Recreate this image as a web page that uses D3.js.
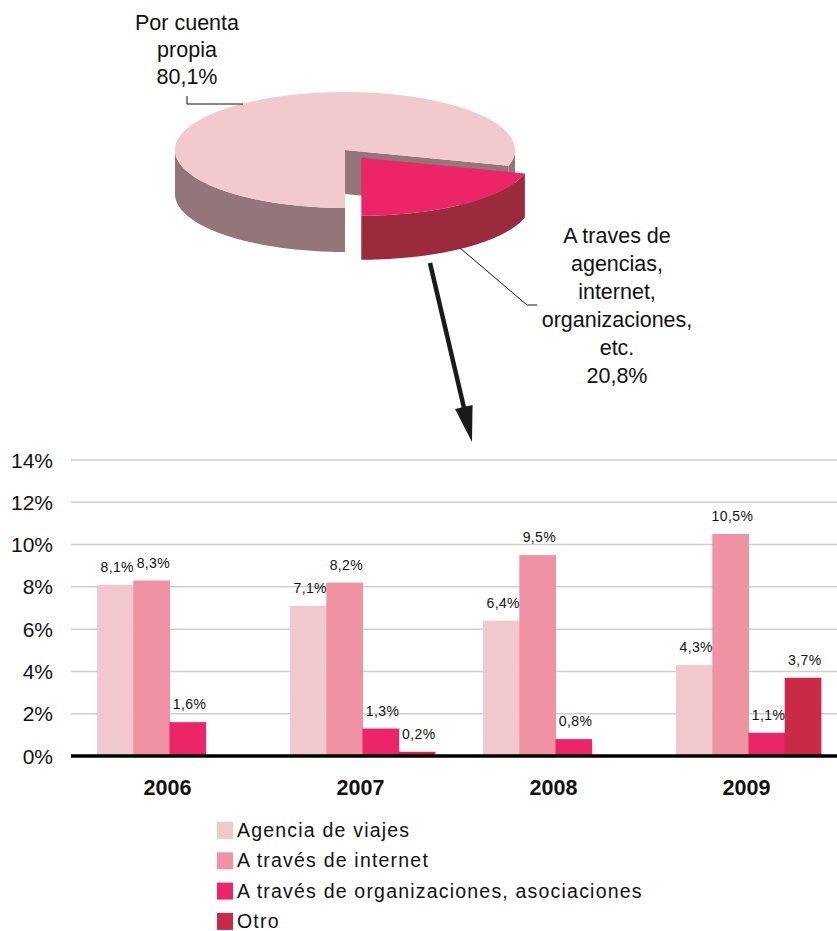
<!DOCTYPE html>
<html><head><meta charset="utf-8">
<script src="https://cdn.jsdelivr.net/npm/d3@7"></script>
<style>body{margin:0;background:#fff}svg{display:block;font-family:"Liberation Sans",Arial,sans-serif}</style>
</head><body><svg id="c" width="837" height="931"></svg>
<script>
// ---- data ----
const pieLabels = [["Por cuenta","propia","80,1%"],["A traves de","agencias,","internet,","organizaciones,","etc.","20,8%"]];
const pieValues = [80.1, 20.8];
const years = ["2006","2007","2008","2009"];
const seriesNames = ["Agencia de viajes","A través de internet","A través de organizaciones, asociaciones","Otro"];
const agencia = [8.1, 7.1, 6.4, 4.3];
const internet = [8.3, 8.2, 9.5, 10.5];
const organizaciones = [1.6, 1.3, 0.8, 1.1];
const otro = [0, 0.2, 0, 3.7];
const valueLabels = [["8,1%","7,1%","6,4%","4,3%"],["8,3%","8,2%","9,5%","10,5%"],["1,6%","1,3%","0,8%","1,1%"],["","0,2%","","3,7%"]];
const yTicks = [0,2,4,6,8,10,12,14];

const barColors = ["#f0c8cd","#ef92a3","#ec2569","#c92a48"];
const svg = d3.select("#c");

// ---- 3D pie ----
const cx = 345, cy = 150, rx = 170, ry = 58, depth = 44;
const pie = d3.pie().sort(null).startAngle(-Math.PI).endAngle(Math.PI);
const arcs = pie(pieValues);
const pt = (a, ox, oy, dz) => [ox + rx*Math.sin(a), oy - ry*Math.cos(a) + (dz||0)];
function arcPts(a0, a1, ox, oy, dz){
  const n = Math.max(2, Math.ceil(Math.abs(a1-a0)/0.02));
  return d3.range(n+1).map(i => pt(a0 + (a1-a0)*i/n, ox, oy, dz));
}
const line = d3.line();
const topCols = ["#f2c9cd","#ec2569"], wallCols = ["#93757a","#9b2a3c"];
arcs.forEach((d,i) => {
  let ox = cx, oy = cy;
  if (i === 1) {
    const mid = (d.startAngle + d.endAngle)/2, dist = 27;
    ox += dist*Math.sin(mid); oy += -dist*Math.cos(mid)*0.36;
  }
  const g = svg.append("g");
  const segs = [];
  [[Math.PI/2, 3*Math.PI/2],[-3*Math.PI/2,-Math.PI/2],[5*Math.PI/2,7*Math.PI/2]].forEach(([f0,f1]) => {
    const s = Math.max(d.startAngle, f0), e = Math.min(d.endAngle, f1);
    if (e > s) segs.push([s,e]);
  });
  segs.forEach(([s,e]) => {
    const topP = arcPts(s, e, ox, oy, 0), botP = arcPts(e, s, ox, oy, depth);
    g.append("path").attr("d", line(topP.concat(botP)) + "Z").attr("fill", wallCols[i]);
  });
  if (i === 0) {
    const p = pt(d.endAngle, ox, oy, 0);
    g.append("path").attr("d", line([[ox,oy],p,[p[0],p[1]+depth],[ox,oy+depth]])+"Z").attr("fill", wallCols[0]);
  }
  const tp = [[ox,oy]].concat(arcPts(d.startAngle, d.endAngle, ox, oy, 0));
  g.append("path").attr("d", line(tp)+"Z").attr("fill", topCols[i]);
});

// pie labels
svg.append("text").attr("text-anchor","middle").attr("font-size","21.5px").attr("fill","#111")
  .selectAll("tspan").data(pieLabels[0]).join("tspan").attr("x",187).attr("y",(d,i)=>30+i*27).text(d=>d);
svg.append("text").attr("text-anchor","middle").attr("font-size","21.5px").attr("fill","#111")
  .selectAll("tspan").data(pieLabels[1]).join("tspan").attr("x",617).attr("y",(d,i)=>243+i*28).text(d=>d);
svg.append("path").attr("d","M187,96V104H243").attr("fill","none").attr("stroke","#111").attr("stroke-width",1);
svg.append("path").attr("d","M460,248L527,305H537").attr("fill","none").attr("stroke","#111").attr("stroke-width",1);

// arrow
{
  const x0=430,y0=263,x1=472,y1=442;
  const L = Math.hypot(x1-x0,y1-y0), ux=(x1-x0)/L, uy=(y1-y0)/L, hl=36, hw=9;
  const bx=x1-ux*hl, by=y1-uy*hl;
  svg.append("line").attr("x1",x0).attr("y1",y0).attr("x2",bx+ux*4).attr("y2",by+uy*4).attr("stroke","#1a1a1a").attr("stroke-width",4.5);
  svg.append("path").attr("d",line([[x1,y1],[bx-uy*hw,by+ux*hw],[bx+uy*hw,by-ux*hw]])+"Z").attr("fill","#1a1a1a");
}

// ---- bar chart ----
const y = d3.scaleLinear().domain([0,14]).range([756,460]);
const x0 = d3.scaleBand().domain(years).range([73,845]).paddingInner(0.25).paddingOuter(0.125);
const x1 = d3.scaleBand().domain(d3.range(4)).range([0,x0.bandwidth()]);
const series = [agencia, internet, organizaciones, otro];

svg.append("g").selectAll("line").data(yTicks.slice(1)).join("line")
  .attr("x1",71).attr("x2",837).attr("y1",d=>y(d)).attr("y2",d=>y(d)).attr("stroke","#cfcfcf").attr("stroke-width",1.5);
svg.append("g").selectAll("text").data(yTicks).join("text")
  .attr("x",53).attr("y",d=>y(d)+7.5).attr("text-anchor","end").attr("font-size","21px").attr("fill","#111").text(d=>d+"%");

const bars = [];
years.forEach((yr,j)=>series.forEach((s,k)=>bars.push({yr,k,v:s[j],lab:valueLabels[k][j]})));
svg.append("g").selectAll("rect").data(bars.filter(b=>b.v>0)).join("rect")
  .attr("x",b=>x0(b.yr)+x1(b.k)).attr("width",x1.bandwidth()+0.5)
  .attr("y",b=>y(b.v)).attr("height",b=>y(0)-y(b.v)).attr("fill",b=>barColors[b.k]);
svg.append("g").selectAll("text").data(bars.filter(b=>b.lab)).join("text")
  .attr("x",b=>x0(b.yr)+x1(b.k)+x1.bandwidth()/2+2).attr("y",b=>y(b.v)-13)
  .attr("text-anchor","middle").attr("font-size","14px").attr("letter-spacing","0.4px").attr("fill","#111").text(b=>b.lab);

svg.append("line").attr("x1",71).attr("x2",837).attr("y1",756).attr("y2",756).attr("stroke","#000").attr("stroke-width",3.5);
svg.append("g").selectAll("text").data(years).join("text")
  .attr("x",d=>x0(d)+x0.bandwidth()/2-2).attr("y",795).attr("text-anchor","middle")
  .attr("font-size","21.5px").attr("font-weight","bold").attr("fill","#111").text(d=>d);

// legend
const lg = svg.append("g").selectAll("g").data(seriesNames).join("g").attr("transform",(d,i)=>`translate(217,${822+i*30.3})`);
lg.append("rect").attr("width",16).attr("height",17).attr("fill",(d,i)=>barColors[i]);
lg.append("text").attr("x",20).attr("y",15).attr("font-size","19.5px").attr("letter-spacing","1.2px").attr("fill","#111").text(d=>d);
</script></body></html>
